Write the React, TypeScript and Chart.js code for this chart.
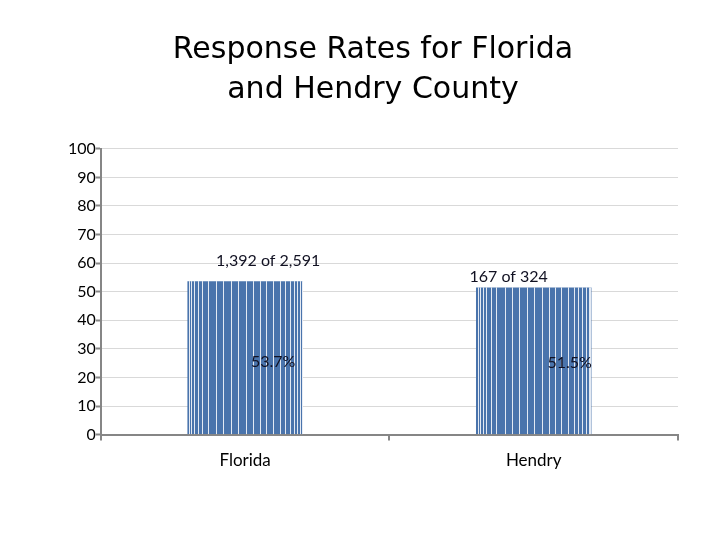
import React, { useEffect, useRef } from "react";
import Chart from "chart.js/auto";

const categories = ["Florida", "Hendry"];
const rates = [53.7, 51.5];
const countLabels = ["1,392 of 2,591", "167 of 324"];
const rateLabels = ["53.7%", "51.5%"];
const titleLines = ["Response Rates for Florida", "and Hendry County"];

// white stripe positions across each bar (fraction of bar width)
const stripes = [
  0.015, 0.035, 0.06, 0.09, 0.13, 0.175, 0.25, 0.31, 0.375, 0.44, 0.505,
  0.57, 0.63, 0.685, 0.74, 0.8, 0.845, 0.885, 0.92, 0.95, 0.975, 0.99,
];

const labelFont = "Lato, 'Open Sans', sans-serif";

const barDecor = {
  id: "barDecor",
  afterDatasetsDraw(chart: any) {
    const ctx = chart.ctx;
    const meta = chart.getDatasetMeta(0);
    meta.data.forEach((bar: any, i: number) => {
      const left = bar.x - bar.width / 2;
      const top = bar.y;
      const bottom = bar.base;
      ctx.save();
      ctx.strokeStyle = "rgba(255,255,255,0.85)";
      ctx.lineWidth = 1;
      stripes.forEach((f) => {
        const x = Math.round(left + f * bar.width) + 0.5;
        ctx.beginPath();
        ctx.moveTo(x, top);
        ctx.lineTo(x, bottom);
        ctx.stroke();
      });
      ctx.fillStyle = "#111122";
      ctx.font = "16px " + labelFont;
      ctx.textAlign = "center";
      ctx.textBaseline = "middle";
      const shift = i === 0 ? 23 : -25;
      ctx.fillText(countLabels[i], bar.x + shift, top - (i === 0 ? 20 : 11));
      const mid = (top + bottom) / 2;
      ctx.fillText(rateLabels[i], bar.x + (i === 0 ? 28 : 36), mid + (i === 0 ? 4 : 2));
      ctx.restore();
    });
  },
};

export default function App() {
  const canvasRef = useRef<HTMLCanvasElement | null>(null);
  const chartRef = useRef<Chart | null>(null);

  useEffect(() => {
    document.body.style.margin = "0";
    const ctx = canvasRef.current?.getContext("2d");
    if (!ctx) return;
    if (chartRef.current) chartRef.current.destroy();
    chartRef.current = new Chart(ctx, {
      type: "bar",
      data: {
        labels: categories,
        datasets: [
          {
            data: rates,
            backgroundColor: (c: any) => {
              const chart = c.chart;
              const bar = chart.getDatasetMeta(0).data[c.dataIndex];
              if (!bar || !bar.width) return "#4a74ac";
              const l = bar.x - bar.width / 2;
              const g = chart.ctx.createLinearGradient(l, 0, l + bar.width, 0);
              g.addColorStop(0, "#5888c8");
              g.addColorStop(0.5, "#4670aa");
              g.addColorStop(1, "#3a5a84");
              return g;
            },
            borderWidth: 0,
            categoryPercentage: 1,
            barPercentage: 0.4,
          },
        ],
      },
      options: {
        animation: false,
        responsive: false,
        layout: { padding: { top: 0, left: 68, right: 42, bottom: 59 } },
        plugins: {
          legend: { display: false },
          tooltip: { enabled: false },
          title: {
            display: true,
            text: titleLines,
            color: "#000",
            font: { family: "'DejaVu Sans', sans-serif", size: 30, weight: "normal", lineHeight: 1.33 },
            padding: { top: 30, bottom: 39 },
          },
        },
        scales: {
          x: {
            offset: true,
            border: { color: "#868686", width: 2 },
            grid: {
              offset: true,
              drawOnChartArea: false,
              drawTicks: true,
              tickLength: 6,
              color: "#868686",
              lineWidth: 2,
            },
            ticks: {
              color: "#000",
              font: { family: labelFont, size: 17 },
              padding: 10,
            },
          },
          y: {
            min: 0,
            max: 100,
            border: { color: "#868686", width: 2 },
            grid: {
              color: "#d9d9d9",
              tickLength: 5,
              tickColor: "#868686",
              tickWidth: 2,
            },
            ticks: {
              stepSize: 10,
              color: "#000",
              font: { family: labelFont, size: 16 },
              padding: 0,
            },
          },
        },
      },
      plugins: [barDecor],
    });
    return () => {
      chartRef.current?.destroy();
      chartRef.current = null;
    };
  }, []);

  return (
    <div style={{ width: 720, height: 540, background: "#fff" }}>
      <canvas ref={canvasRef} width={720} height={540}></canvas>
    </div>
  );
}
